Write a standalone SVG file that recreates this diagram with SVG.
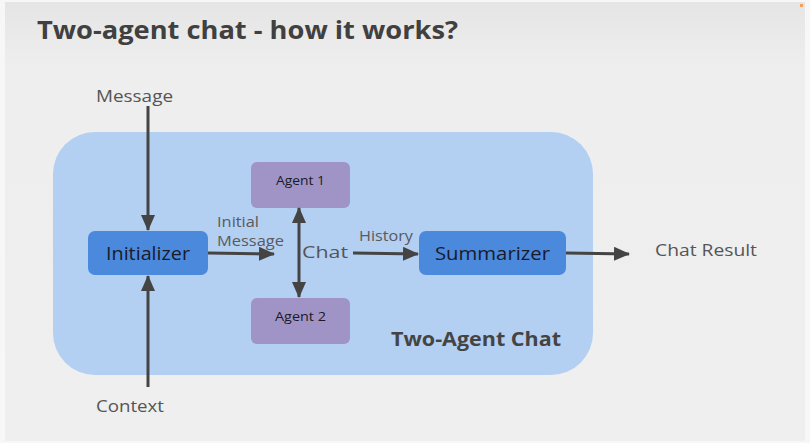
<svg xmlns="http://www.w3.org/2000/svg" width="810" height="443" viewBox="0 0 810 443">
<defs>
<linearGradient id="bg" x1="0" y1="0" x2="0" y2="1">
<stop offset="0" stop-color="#e5e5e5"/>
<stop offset="0.15" stop-color="#eeeeee"/>
<stop offset="1" stop-color="#efefef"/>
</linearGradient>
<marker id="ah" markerWidth="16" markerHeight="14" refX="15" refY="7" orient="auto-start-reverse" markerUnits="userSpaceOnUse">
<path d="M0,0 L16,7 L0,14 Z" fill="#444"/>
</marker>
<style>
.lbl{font-family:"Open Sans","Liberation Sans",sans-serif;fill:#555;font-size:16px;}
.small{font-family:"Open Sans","Liberation Sans",sans-serif;fill:#5a5a5a;font-size:14px;}
.blue{fill:#4a89dc;}
.purple{fill:#a094c6;}
.ntext{font-family:"Open Sans","Liberation Sans",sans-serif;fill:#1a1a2a;}
.conn{stroke:#444;stroke-width:3;fill:none;}
</style>
</defs>
<rect width="810" height="443" fill="#f7f7f7"/>
<rect x="5" y="2" width="800" height="439" fill="url(#bg)"/>
<rect x="800" y="4" width="3" height="3" fill="#f0a060"/>
<text x="37" y="39" font-family="'Open Sans','Liberation Sans',sans-serif" font-weight="bold" font-size="25" fill="#404040" textLength="421" lengthAdjust="spacingAndGlyphs">Two-agent chat - how it works?</text>

<g id="container">
<rect x="53" y="132" width="540" height="243" rx="42" fill="#b3cff2"/>
<text x="391" y="346" font-family="'Open Sans','Liberation Sans',sans-serif" font-weight="bold" font-size="19" fill="#444" textLength="170" lengthAdjust="spacingAndGlyphs">Two-Agent Chat</text>
</g>

<g id="initializer">
<rect class="blue" x="88" y="231" width="120" height="44" rx="7"/>
<text class="ntext" x="106" y="259.5" font-size="18" textLength="84" lengthAdjust="spacingAndGlyphs">Initializer</text>
</g>
<g id="agent1">
<rect class="purple" x="251" y="162" width="99" height="46" rx="6"/>
<text class="ntext" x="276" y="185" font-size="12.5" textLength="49" lengthAdjust="spacingAndGlyphs">Agent 1</text>
</g>
<g id="agent2">
<rect class="purple" x="251" y="298" width="99" height="46" rx="6"/>
<text class="ntext" x="275" y="321" font-size="12.5" textLength="51" lengthAdjust="spacingAndGlyphs">Agent 2</text>
</g>
<g id="summarizer">
<rect class="blue" x="419" y="231" width="147" height="44" rx="7"/>
<text class="ntext" x="435" y="259.5" font-size="18" textLength="115" lengthAdjust="spacingAndGlyphs">Summarizer</text>
</g>
<g id="message">
<text class="lbl" x="96" y="102" font-size="16.5" textLength="77" lengthAdjust="spacingAndGlyphs">Message</text>
</g>
<g id="context">
<text class="lbl" x="96" y="412" font-size="16.5" textLength="68" lengthAdjust="spacingAndGlyphs">Context</text>
</g>
<g id="chat">
<text class="lbl" x="302" y="258" font-size="19" textLength="46" lengthAdjust="spacingAndGlyphs">Chat</text>
</g>
<g id="chatresult">
<text class="lbl" x="655" y="256" font-size="16.5" textLength="102" lengthAdjust="spacingAndGlyphs">Chat Result</text>
</g>

<g id="connectors">
<line class="conn" x1="148" y1="106" x2="148" y2="230" marker-end="url(#ah)"/>
<line class="conn" x1="148" y1="387" x2="148" y2="276" marker-end="url(#ah)"/>
<line class="conn" x1="208" y1="253" x2="274" y2="254" marker-end="url(#ah)"/>
<text class="small" x="217" y="227" textLength="42" lengthAdjust="spacingAndGlyphs">Initial</text>
<text class="small" x="217" y="246" textLength="67" lengthAdjust="spacingAndGlyphs">Message</text>
<line class="conn" x1="299" y1="208" x2="299" y2="297" marker-start="url(#ah)" marker-end="url(#ah)"/>
<line class="conn" x1="353" y1="253" x2="418" y2="254" marker-end="url(#ah)"/>
<text class="small" x="359" y="241" textLength="54" lengthAdjust="spacingAndGlyphs">History</text>
<line class="conn" x1="566" y1="253" x2="629" y2="254" marker-end="url(#ah)"/>
</g>
</svg>
